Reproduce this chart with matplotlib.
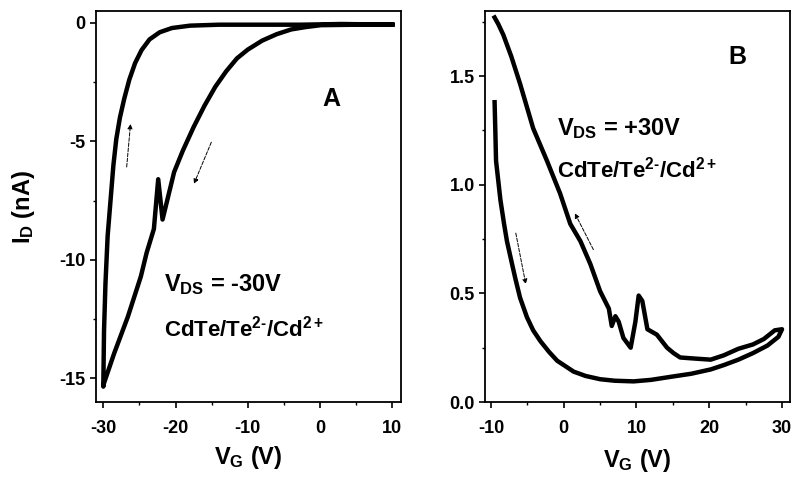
import numpy as np
import matplotlib
matplotlib.use("Agg")
import matplotlib.pyplot as plt
from matplotlib.ticker import MultipleLocator

plt.rcParams['font.family'] = ['Liberation Sans', 'DejaVu Sans']
plt.rcParams['font.weight'] = 'bold'
plt.rcParams['axes.unicode_minus'] = False
plt.rcParams['mathtext.fontset'] = 'custom'
plt.rcParams['mathtext.rm'] = 'Liberation Sans:bold'
plt.rcParams['mathtext.bf'] = 'Liberation Sans:bold'
plt.rcParams['mathtext.it'] = 'Liberation Sans:bold'
plt.rcParams['mathtext.default'] = 'bf'

# panel A: V_DS = -30V, sweep 10 -> -30 (lower branch) then back up
a_vg = [10, 5, 0.1, -2, -4.0, -6, -8, -10, -11.5, -13, -14.5, -16, -17.5, -19, -20.2, -21.8, -22.4,
        -23.0, -24.0, -24.8, -26.6, -28.5, -29.9, -30.0,
        -29.9, -29.7, -29.4, -29.0, -28.6, -28.2, -27.7, -27.1, -26.4, -25.6, -24.7, -23.6, -22.2,
        -20.5, -18, -14, -10, -2.7, 3, 10]
a_id = [-0.07, -0.08, -0.1, -0.18, -0.28, -0.48, -0.75, -1.13, -1.5, -2.05, -2.7, -3.5, -4.4, -5.4, -6.3, -8.3, -6.6,
        -8.7, -9.7, -10.7, -12.4, -13.95, -15.2, -15.35,
        -13.0, -11.0, -9.0, -7.5, -6.0, -4.9, -4.0, -3.2, -2.4, -1.7, -1.15, -0.7, -0.4,
        -0.22, -0.12, -0.08, -0.08, -0.08, -0.05, -0.08]

# panel B: V_DS = +30V, sweep -10 -> 30 (lower branch) then back (upper branch)
b_vg = [-9.5, -9.4, -9.3, -9.0, -8.7, -8.2, -7.8, -7.2, -6.66, -6.0, -5.05, -4.2, -3.2, -2.0, -0.9, 1.36, 3.0,
        5.0, 7.0, 9.6, 12.0, 15.1, 17.5, 20.2, 22.0, 24.0, 26.0, 28.0, 29.5,
        30.0, 29.0, 27.5, 26.0, 24.0, 22.0, 20.2, 18.0, 16.0, 15.1, 14.2, 12.8, 11.5, 10.8, 10.3, 9.85, 9.2,
        8.2, 7.55, 7.1, 6.6, 6.2, 5.0, 3.66, 2.3, 0.9, -0.5, -2.3, -4.2, -6.0, -7.2, -8.3, -9.0, -9.5]
b_id = [1.38, 1.25, 1.11, 1.02, 0.93, 0.82, 0.74, 0.65, 0.57, 0.48, 0.39, 0.33, 0.28, 0.23, 0.19, 0.14, 0.12,
        0.105, 0.098, 0.095, 0.102, 0.118, 0.13, 0.15, 0.17, 0.195, 0.225, 0.26, 0.3,
        0.335, 0.33, 0.29, 0.265, 0.245, 0.215, 0.195, 0.2, 0.205, 0.225, 0.25, 0.31, 0.335, 0.465, 0.49, 0.37, 0.25,
        0.295, 0.37, 0.395, 0.35, 0.43, 0.51, 0.635, 0.74, 0.82, 0.96, 1.11, 1.26, 1.465, 1.59, 1.69, 1.74, 1.77]

fig = plt.figure(figsize=(7.94, 4.87), dpi=100)
axA = fig.add_axes([0.121, 0.1745, 0.384, 0.803])
axB = fig.add_axes([0.611, 0.1745, 0.384, 0.803])

for ax in (axA, axB):
    for s in ax.spines.values():
        s.set_linewidth(1.3)
    ax.tick_params(which='major', direction='out', length=4, width=1.2, labelsize=13, top=False, right=False)
    ax.tick_params(which='minor', direction='out', length=2.5, width=1.0, top=False, right=False)
    ax.tick_params(axis='x', which='major', pad=9)

axA.plot(a_vg, a_id, color='black', lw=3.2, solid_joinstyle='round')
axA.set_xlim(-31, 11.2)
axA.set_ylim(-16, 0.5)
axA.xaxis.set_major_locator(MultipleLocator(10))
axA.xaxis.set_minor_locator(MultipleLocator(5))
axA.yaxis.set_major_locator(MultipleLocator(5))
axA.yaxis.set_minor_locator(MultipleLocator(2.5))
axA.set_xlabel('V$_G$ (V)', fontsize=17, fontweight='bold', labelpad=5)
axA.set_ylabel('I$_D$ (nA)', fontsize=17, fontweight='bold', labelpad=16)
axA.text(1.5, -3.2, 'A', fontsize=18, fontweight='bold', ha='center', va='center')
axA.text(-21.6, -11.05, 'V$_{DS}$ = -30V', fontsize=17, fontweight='bold', va='center')
axA.text(-21.6, -12.9, 'CdTe/Te$^{\\text{2-}}$/Cd$^{2+}$', fontsize=16, fontweight='bold', va='center')
axA.annotate('', xy=(-26.2, -4.15), xytext=(-26.8, -6.2),
             arrowprops=dict(arrowstyle='-|>', lw=0.7, ls='--', color='black', mutation_scale=7))
axA.annotate('', xy=(-17.6, -6.9), xytext=(-14.9, -4.93),
             arrowprops=dict(arrowstyle='-|>', lw=0.7, ls='--', color='black', mutation_scale=7))

axB.plot(b_vg, b_id, color='black', lw=3.2, solid_joinstyle='round')
axB.set_xlim(-10.8, 31.1)
axB.set_ylim(0, 1.8)
axB.xaxis.set_major_locator(MultipleLocator(10))
axB.xaxis.set_minor_locator(MultipleLocator(5))
axB.yaxis.set_major_locator(MultipleLocator(0.5))
axB.yaxis.set_minor_locator(MultipleLocator(0.25))
axB.set_xlabel('V$_G$ (V)', fontsize=17, fontweight='bold', labelpad=7)
axB.text(23.8, 1.59, 'B', fontsize=18, fontweight='bold', ha='center', va='center')
axB.text(-0.9, 1.26, 'V$_{DS}$ = +30V', fontsize=17, fontweight='bold', va='center')
axB.text(-0.9, 1.07, 'CdTe/Te$^{\\text{2-}}$/Cd$^{2+}$', fontsize=16, fontweight='bold', va='center')
axB.annotate('', xy=(-5.14, 0.53), xytext=(-6.66, 0.79),
             arrowprops=dict(arrowstyle='-|>', lw=0.7, ls='--', color='black', mutation_scale=7))
axB.annotate('', xy=(1.36, 0.88), xytext=(4.25, 0.69),
             arrowprops=dict(arrowstyle='-|>', lw=0.7, ls='--', color='black', mutation_scale=7))

fig.savefig('out.png', dpi=100)
